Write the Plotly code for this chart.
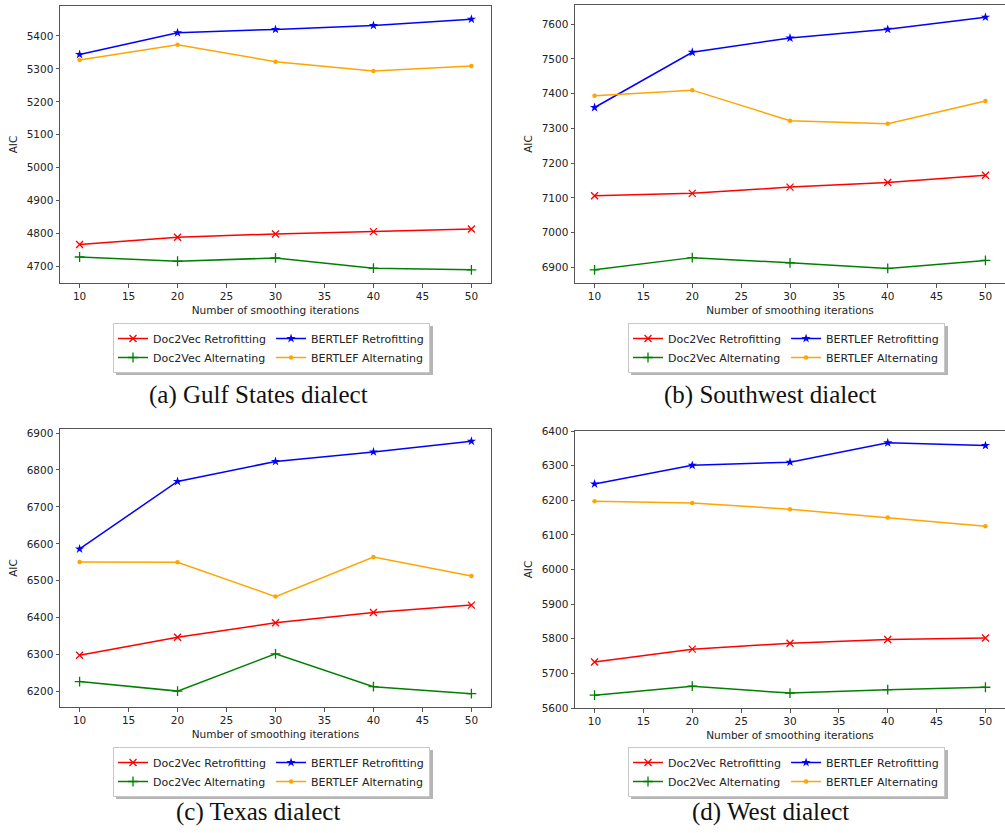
import plotly.graph_objects as go

# ---------------- data ----------------
iterations = [10, 20, 30, 40, 50]

gulf_doc2vec_retro = [4767, 4789, 4799, 4806, 4814]
gulf_doc2vec_alt = [4729, 4716, 4726, 4695, 4690]
gulf_bertlef_retro = [5344, 5410, 5420, 5432, 5451]
gulf_bertlef_alt = [5327, 5373, 5322, 5294, 5309]

sw_doc2vec_retro = [7106, 7113, 7131, 7144, 7165]
sw_doc2vec_alt = [6893, 6928, 6913, 6897, 6920]
sw_bertlef_retro = [7360, 7519, 7560, 7585, 7620]
sw_bertlef_alt = [7394, 7410, 7322, 7313, 7379]

tx_doc2vec_retro = [6298, 6347, 6386, 6414, 6434]
tx_doc2vec_alt = [6227, 6201, 6302, 6213, 6194]
tx_bertlef_retro = [6586, 6769, 6823, 6849, 6878]
tx_bertlef_alt = [6551, 6550, 6457, 6564, 6513]

west_doc2vec_retro = [5733, 5770, 5787, 5798, 5802]
west_doc2vec_alt = [5637, 5663, 5643, 5653, 5660]
west_bertlef_retro = [6247, 6301, 6310, 6366, 6358]
west_bertlef_alt = [6197, 6192, 6174, 6150, 6125]

series_names = ["Doc2Vec Retrofitting", "Doc2Vec Alternating",
                "BERTLEF Retrofitting", "BERTLEF Alternating"]
captions = ["(a) Gulf States dialect", "(b) Southwest dialect",
            "(c) Texas dialect", "(d) West dialect"]
x_tick_values = [10, 15, 20, 25, 30, 35, 40, 45, 50]

panels_data = [
    [gulf_doc2vec_retro, gulf_doc2vec_alt, gulf_bertlef_retro, gulf_bertlef_alt],
    [sw_doc2vec_retro, sw_doc2vec_alt, sw_bertlef_retro, sw_bertlef_alt],
    [tx_doc2vec_retro, tx_doc2vec_alt, tx_bertlef_retro, tx_bertlef_alt],
    [west_doc2vec_retro, west_doc2vec_alt, west_bertlef_retro, west_bertlef_alt],
]

# ---------------- layout geometry (pixels) ----------------
W, H = 1005, 833
# left, right, top, bottom of plot areas
boxes = [(60, 491, 6, 283), (575, 1005, 5, 283),
         (60, 491, 429, 707), (575, 1005, 431, 708)]
y_ranges = [[4650, 5491], [6855, 7655], [6158, 6911], [5600, 6400]]
legend_pos = [(113, 323), (628, 323), (113, 747), (628, 747)]
legend_size = (317, 49)
caption_pos = [(258, 395), (770, 395), (258, 812), (770, 812)]

styles = [
    dict(color="red", symbol="x-thin", size=7, lw=1.3),
    dict(color="green", symbol="cross-thin", size=7, lw=1.3),
    dict(color="blue", symbol="star", size=7, lw=0),
    dict(color="orange", symbol="circle", size=4.5, lw=0),
]
ranks = [1, 3, 2, 4]
groups = ["doc2vec", "doc2vec", "bertlef", "bertlef"]

def fx(px):
    return px / W

def fy(py):
    return 1 - py / H

fig = go.Figure()
font_main = "DejaVu Sans"
text_col = "#222222"
spine_col = "#555555"

for p in range(4):
    sfx = "" if p == 0 else str(p + 1)
    xa = "x" + sfx
    ya = "y" + sfx
    leg = "legend" + sfx
    for s in range(4):
        st = styles[s]
        marker = dict(symbol=st["symbol"], size=st["size"], color=st["color"])
        if st["lw"] > 0:
            marker["line"] = dict(width=st["lw"], color=st["color"])
        fig.add_trace(go.Scatter(
            x=iterations, y=panels_data[p][s], mode="lines+markers",
            name=series_names[s], line=dict(color=st["color"], width=1.5),
            marker=marker, xaxis=xa, yaxis=ya, legend=leg,
            legendgroup=f"{groups[s]}_{p}", legendrank=ranks[s],
        ))
    l, r, t, b = boxes[p]
    axis_common = dict(showline=True, mirror=True, linecolor=spine_col,
                       linewidth=1, ticks="outside", ticklen=3.5,
                       tickcolor=spine_col, showgrid=False, zeroline=False,
                       automargin=False,
                       tickfont=dict(family=font_main, size=10.5, color=text_col))
    fig.layout["xaxis" + sfx] = dict(
        domain=[fx(l), fx(r)], anchor=ya, range=[8, 52],
        tickvals=x_tick_values,
        title=dict(text="Number of smoothing iterations", standoff=5,
                   font=dict(family=font_main, size=10.5, color=text_col)),
        **axis_common)
    fig.layout["yaxis" + sfx] = dict(
        domain=[fy(b), fy(t)], anchor=xa, range=y_ranges[p], dtick=100,
        title=dict(text="AIC", standoff=6,
                   font=dict(family=font_main, size=10.5, color=text_col)),
        **axis_common)
    lx, ly = legend_pos[p]
    fig.layout[leg] = dict(
        x=fx(lx), y=fy(ly), xanchor="left", yanchor="top",
        orientation="h", traceorder="grouped", bgcolor="white",
        bordercolor="#c8c8c8", borderwidth=1,
        font=dict(family=font_main, size=11, color=text_col),
        itemwidth=30, tracegroupgap=0,
    )
    # legend drop shadow (decorative, like matplotlib's shadow=True)
    lw_, lh_ = legend_size
    fig.add_shape(type="rect", xref="paper", yref="paper", layer="below",
                  x0=fx(lx + 3), x1=fx(lx + lw_ + 3),
                  y0=fy(ly + lh_ + 3), y1=fy(ly + 3),
                  fillcolor="rgba(120,120,120,0.55)", line=dict(width=0))
    cx, cy = caption_pos[p]
    fig.add_annotation(x=fx(cx), y=fy(cy), xref="paper", yref="paper",
                       text=captions[p], showarrow=False,
                       xanchor="center", yanchor="middle",
                       font=dict(family="Liberation Serif", size=25, color="#111111"))

fig.update_layout(width=W, height=H, margin=dict(l=0, r=0, t=0, b=0),
                  paper_bgcolor="white", plot_bgcolor="white")

fig.write_html("out.html", config={"displayModeBar": False},
               post_script="document.body.style.margin='0';document.body.style.overflow='hidden';")
